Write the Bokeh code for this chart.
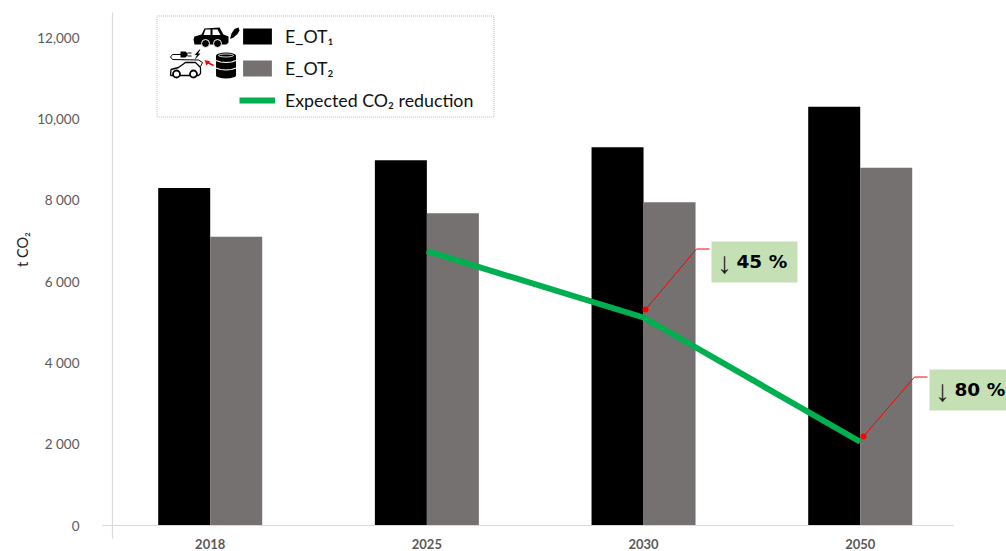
from bokeh.core.properties import value
from bokeh.embed import file_html
from bokeh.models import BoxAnnotation, FixedTicker, Legend, LegendItem, LinearAxis, Range1d
from bokeh.plotting import figure
from bokeh.resources import INLINE

years = ["2018", "2025", "2030", "2050"]
e_ot1 = [8300, 8980, 9300, 10300]
e_ot2 = [7100, 7680, 7950, 8800]
reduction = [6750, 5115, 2060]
y_ticks = [0, 2000, 4000, 6000, 8000, 10000, 12000]
y_tick_labels = ["0", "2 000", "4 000", "6 000", "8 000", "10,000", "12,000"]
callouts = ["45 %", "80 %"]

W, H = 1006, 551
FONT = "Lato"
BLACK, GREY, GREEN, RED = "#000000", "#767171", "#00B050", "#FF0000"
PALE_GREEN = "#C5E0B4"
RULE = "#D9D9D9"
INK = "#595959"

# Linear maps between canvas pixels and data values.
X0, X_STEP = 209.7, 216.67
Y0, Y_SCALE = 525.0, 81.33 / 2000


def dx(px):
    return (px - X0) / X_STEP


def dy(py):
    return (Y0 - py) / Y_SCALE


def dxs(seq):
    return [dx(v) for v in seq]


def dys(seq):
    return [dy(v) for v in seq]


p = figure(
    width=W, height=H, output_backend="svg", toolbar_location=None,
    x_range=Range1d(dx(0), dx(W)), y_range=Range1d(dy(H), dy(0)),
    min_border=0, min_border_left=0, min_border_right=0, min_border_top=0, min_border_bottom=0,
    x_axis_location=None, y_axis_location=None,
    outline_line_color=None, background_fill_color="white", border_fill_color="white",
)
p.grid.visible = False

# Axes sit inside the canvas at fixed positions.
y_axis = LinearAxis(
    fixed_location=dx(112), bounds=(dy(538), dy(12)),
    ticker=FixedTicker(ticks=y_ticks),
    major_label_overrides={t: s for t, s in zip(y_ticks, y_tick_labels)},
    major_tick_line_color=None, minor_tick_line_color=None,
    major_tick_in=0, major_tick_out=0, major_label_standoff=33,
    axis_line_color=RULE, axis_line_width=1.2,
    major_label_text_font=FONT, major_label_text_font_size="13.5px", major_label_text_color=INK,
)
p.add_layout(y_axis, "left")

x_axis = LinearAxis(
    fixed_location=0, bounds=(dx(102), dx(953)),
    ticker=FixedTicker(ticks=list(range(len(years)))),
    major_label_overrides={i: y for i, y in enumerate(years)},
    major_tick_line_color=None, minor_tick_line_color=None,
    major_tick_in=0, major_tick_out=0, major_label_standoff=13,
    axis_line_color=RULE, axis_line_width=1.2,
    major_label_text_font=FONT, major_label_text_font_size="13px",
    major_label_text_font_style="bold", major_label_text_color=INK,
)
p.add_layout(x_axis, "below")

# Vertical unit title beside the value axis.
p.text(x=[dx(22)], y=[dy(249)], text=["t CO₂"], angle=1.5708, text_font=value(FONT), text_font_size="14.5px",
       text_color="#222222", text_align="center", text_baseline="middle")

# Legend frame, behind everything else.
p.add_layout(BoxAnnotation(
    left=dx(156.5), right=dx(493.5), top=dy(15.5), bottom=dy(116.5),
    fill_color="white", fill_alpha=1, line_color="#333333", line_width=1, line_dash="1 1", level="underlay",
))

# Paired bars, one group per year.
idx = list(range(len(years)))
bar_w = 52 / X_STEP
r1 = p.vbar(x=[i - bar_w / 2 for i in idx], top=e_ot1, bottom=0, width=bar_w, fill_color=BLACK, line_color=None)
r2 = p.vbar(x=[i + bar_w / 2 for i in idx], top=e_ot2, bottom=0, width=bar_w, fill_color=GREY, line_color=None)

# Reduction path from 2025 onward.
r3 = p.line(x=idx[1:], y=reduction, line_color=GREEN, line_width=6, line_join="round")

# Callouts: a red dot and elbow leader from the path to a pale green tag.
for tag_left, tag_top, dot_x, dot_y, label in [
    (711, 241, 645, 309, callouts[0]),
    (929, 369, 863, 436, callouts[1]),
]:
    elbow_x, elbow_y = dot_x + 51, tag_top + 7.5
    p.line(x=dxs([dot_x, elbow_x, tag_left - 2]), y=dys([dot_y, elbow_y, elbow_y]), line_color=RED, line_width=1)
    p.scatter(x=[dx(dot_x)], y=[dy(dot_y)], size=6, marker="circle", fill_color=RED, line_color=None)
    p.quad(left=[dx(tag_left)], right=[dx(tag_left + 86)], top=[dy(tag_top)], bottom=[dy(tag_top + 41)],
           fill_color=PALE_GREEN, line_color=None)
    p.text(x=[dx(tag_left + 13)], y=[dy(tag_top + 21)], text=["↓"], text_font=value("Liberation Sans"),
           text_font_size="30px", text_color="#222222", text_align="center", text_baseline="middle")
    p.text(x=[dx(tag_left + 25)], y=[dy(tag_top + 20)], text=[label], text_font=value("DejaVu Sans"),
           text_font_size="18.5px", text_font_style="bold", text_color="#000000", text_baseline="middle")

# Fuel car and exhaust puff.
p.patch(x=dxs([193, 194, 201, 204, 219, 223, 228, 228, 226, 194]),
        y=dys([39, 36, 34, 28, 27, 34, 36, 42, 44, 44]), fill_color=BLACK, line_color=None)
p.patch(x=dxs([205, 210, 210, 203]), y=dys([29, 29, 34.5, 34.5]), fill_color="white", line_color=None)
p.patch(x=dxs([212, 217, 220, 212]), y=dys([29, 29, 34.5, 34.5]), fill_color="white", line_color=None)
p.scatter(x=dxs([205, 217]), y=dys([43, 43]), size=8, marker="circle", fill_color=BLACK, line_color="white", line_width=1)
p.patch(x=dxs([229.5, 231, 234, 238, 239, 237, 233]), y=dys([38.5, 33, 28.5, 27, 30, 33.5, 37]),
        fill_color=BLACK, line_color=None)

# Electric car, cable and plug.
p.line(x=dxs([181, 172, 170, 172, 198, 202, 200]), y=dys([54, 54, 56.5, 59, 59.5, 62, 66]),
       line_color=BLACK, line_width=1)
p.patch(x=dxs([180, 185, 187, 187, 185, 180]), y=dys([51, 51, 53, 55, 57, 57]), fill_color=BLACK, line_color=None)
p.line(x=dxs([187, 191]), y=dys([52.5, 52.5]), line_color=BLACK, line_width=1)
p.line(x=dxs([187, 191]), y=dys([55.5, 55.5]), line_color=BLACK, line_width=1)
p.patch(x=dxs([199, 194, 196.5, 194, 200, 197.5, 200]), y=dys([49, 54.5, 54.5, 59.5, 53, 53, 49]),
        fill_color=BLACK, line_color=None)
p.line(x=dxs([170, 170.5, 178, 185, 195, 200, 200, 198, 170]), y=dys([75, 69, 67, 62, 62, 67, 73, 75, 75]),
       line_color=BLACK, line_width=1.3)
p.scatter(x=dxs([176, 193]), y=dys([73.5, 73.5]), size=7, marker="circle", fill_color="white", line_color=BLACK, line_width=1.8)

# Red arrow and oil drum.
p.line(x=dxs([213, 207]), y=dys([65, 62]), line_color=RED, line_width=1.5)
p.patch(x=dxs([204, 210, 206]), y=dys([59.5, 61, 65]), fill_color=RED, line_color=None)
p.quad(left=[dx(215.5)], right=[dx(235.5)], top=[dy(55)], bottom=[dy(75)], fill_color=BLACK, line_color=None)
p.ellipse(x=dxs([225.5, 225.5]), y=dys([55, 75]), width=20 / X_STEP, height=6 / Y_SCALE,
          fill_color=BLACK, line_color=None)
for band_py in (61, 68.5):
    p.line(x=dxs([215.5, 220, 225.5, 231, 235.5]), y=dys([band_py - 1, band_py + 0.5, band_py + 1, band_py + 0.5, band_py - 1]),
           line_color="white", line_width=1.2)
p.ellipse(x=[dx(225.5)], y=[dy(55)], width=15 / X_STEP, height=3 / Y_SCALE, fill_color=None, line_color="white", line_width=0.8)

legend = Legend(
    items=[
        LegendItem(label="E_OT₁", renderers=[r1]),
        LegendItem(label="E_OT₂", renderers=[r2]),
        LegendItem(label="Expected CO₂ reduction", renderers=[r3]),
    ],
    location=(239, 440), orientation="vertical",
    glyph_width=36, glyph_height=20, label_height=20, spacing=10, padding=7, margin=0,
    label_text_font=FONT, label_text_font_size="17.8px", label_text_color="#111111",
    label_standoff=10, background_fill_alpha=0, border_line_color=None,
)
p.add_layout(legend)

open("out.html", "w").write(file_html(p, INLINE))
